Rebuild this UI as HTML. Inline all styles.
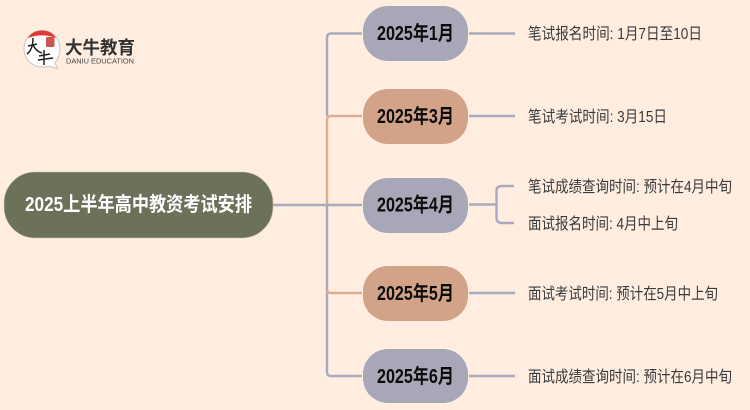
<!DOCTYPE html>
<html><head><meta charset="utf-8">
<style>
html,body{margin:0;padding:0;background:#ffeee0;width:750px;height:410px;overflow:hidden}
svg{display:block}
text{font-family:"Liberation Sans","Noto Sans CJK SC",sans-serif}
.n{font-size:20px;font-weight:700;fill:#0c0c0c}
.t{font-size:16px;fill:#3a3a3a}
.l,.s{fill:none;stroke-width:2.4}
.l{stroke:#a9a9bf}.s{stroke:#dcab90}
</style></head><body>
<svg width="750" height="410" viewBox="0 0 750 410" xmlns="http://www.w3.org/2000/svg">
<rect width="750" height="410" fill="#ffeee0"/>
<!-- connectors -->
<path class="l" d="M362 33.500H331Q327 33.500 327 37.500V116"/>
<path class="l" d="M327 205V372Q327 376 331 376H362"/>
<path class="s" d="M362 116H331Q327 116 327 120V205"/>
<path class="s" d="M362 293H331Q327 293 327 290"/>
<line class="l" x1="273" y1="205" x2="362" y2="205"/>
<line class="l" x1="469" y1="33.500" x2="515" y2="33.500"/>
<line class="l" x1="469" y1="116" x2="515" y2="116"/>
<line class="l" x1="469" y1="293" x2="515" y2="293"/>
<line class="l" x1="469" y1="376" x2="515" y2="376"/>
<line class="l" x1="469" y1="204.500" x2="496" y2="204.500"/>
<path class="l" d="M514 186H502Q496.500 186 496.500 191V218Q496.500 223 502 223H514"/>
<!-- root -->
<rect x="4" y="172" width="269" height="66" rx="31" fill="#6b7259" stroke="#cfc5a8" stroke-width=".6"/>
<text x="25" y="211" font-size="20" font-weight="700" fill="#fff" textLength="227" lengthAdjust="spacingAndGlyphs">2025上半年高中教资考试安排</text>
<!-- month nodes -->
<rect x="363" y="6" width="105" height="55" rx="25" fill="#a7a7b8"/>
<rect x="363" y="89" width="105" height="55" rx="25" fill="#d2a388"/>
<rect x="363" y="178" width="105" height="55" rx="25" fill="#a7a7b8"/>
<rect x="363" y="266" width="105" height="55" rx="25" fill="#d2a388"/>
<rect x="363" y="349" width="105" height="54" rx="25" fill="#a7a7b8"/>
<text class="n" x="377" y="40" textLength="77" lengthAdjust="spacingAndGlyphs">2025年1月</text>
<text class="n" x="377" y="123" textLength="77" lengthAdjust="spacingAndGlyphs">2025年3月</text>
<text class="n" x="377" y="211.500" textLength="77" lengthAdjust="spacingAndGlyphs">2025年4月</text>
<text class="n" x="377" y="300" textLength="77" lengthAdjust="spacingAndGlyphs">2025年5月</text>
<text class="n" x="377" y="383" textLength="77" lengthAdjust="spacingAndGlyphs">2025年6月</text>
<!-- detail labels -->
<text class="t" x="528" y="39" textLength="174" lengthAdjust="spacingAndGlyphs">笔试报名时间: 1月7日至10日</text>
<text class="t" x="528" y="122" textLength="139" lengthAdjust="spacingAndGlyphs">笔试考试时间: 3月15日</text>
<text class="t" x="528" y="192" textLength="204" lengthAdjust="spacingAndGlyphs">笔试成绩查询时间: 预计在4月中旬</text>
<text class="t" x="528" y="229" textLength="150" lengthAdjust="spacingAndGlyphs">面试报名时间: 4月中上旬</text>
<text class="t" x="528" y="299" textLength="190" lengthAdjust="spacingAndGlyphs">面试考试时间: 预计在5月中上旬</text>
<text class="t" x="528" y="382" textLength="204" lengthAdjust="spacingAndGlyphs">面试成绩查询时间: 预计在6月中旬</text>
<!-- logo -->
<path d="M42 30.500C31 30.500 24 39 24 49C24 59 32 67 42 67C46 67 50 66 53 67L57.500 68.500L55 63C58 59 60 54 60 49C60 39 53 30.500 42 30.500Z" fill="#fff" stroke="#c9c5c2" stroke-width="1"/>
<path d="M28 38C31 33 36 30.500 42 30.500C48 30.500 53 33 56 38C47 34.500 37 34.500 28 38Z" fill="#de3a33"/>
<rect x="46" y="37" width="8.500" height="10" rx="1.500" fill="#c8413c" opacity=".9"/>
<path d="M28 46L37 44M33 38C33 46 31 51 27 54M33 45C35 49 38 52 42 53" stroke="#222" stroke-width="1.500" fill="none"/>
<path d="M39 56L50 54M44 50V65M38 60L53 58" stroke="#222" stroke-width="1.500" fill="none"/>
<text x="65" y="54" font-size="18" font-weight="700" fill="#333" textLength="70" lengthAdjust="spacingAndGlyphs">大牛教育</text>
<text x="66" y="63.500" font-size="7" fill="#444" textLength="68" lengthAdjust="spacingAndGlyphs">DANIU EDUCATION</text>
</svg>
</body></html>
